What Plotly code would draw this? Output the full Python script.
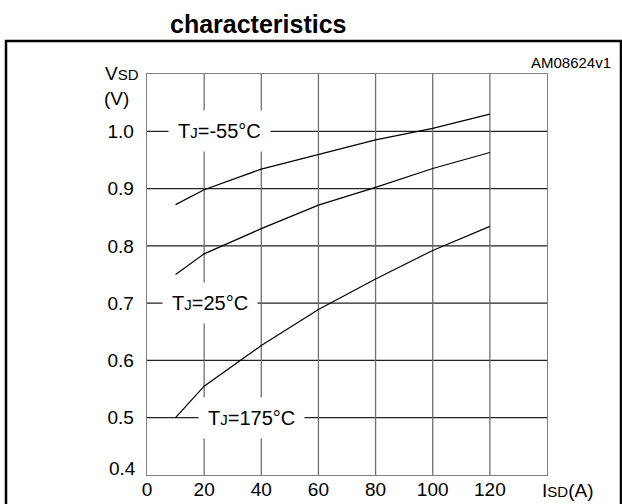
import plotly.graph_objects as go

# Data
isd = [10, 20, 40, 60, 80, 100, 120]
vsd_m55 = [0.872, 0.898, 0.934, 0.959, 0.985, 1.005, 1.030]
vsd_25 = [0.750, 0.786, 0.830, 0.871, 0.902, 0.935, 0.963]
vsd_175 = [0.500, 0.555, 0.626, 0.689, 0.742, 0.792, 0.834]

x_ticks = [0, 20, 40, 60, 80, 100, 120]
y_ticks = [0.5, 0.6, 0.7, 0.8, 0.9, 1.0]
y_tick_text = ["0.5", "0.6", "0.7", "0.8", "0.9", "1.0"]

labels = [
    ("T<span style='font-size:15px'>J</span>=-55°C", 25.3, 1.0),
    ("T<span style='font-size:15px'>J</span>=25°C", 22.0, 0.7),
    ("T<span style='font-size:15px'>J</span>=175°C", 36.4, 0.5),
]

W, H = 622, 504
L, R, T, B = 147, 75, 74, 29
pw, ph = W - L - R, H - T - B

def px(x):
    return (x - L) / pw

def py(y):
    return (H - B - y) / ph

FONT = "Liberation Sans, Arial, sans-serif"

fig = go.Figure()
for ys in (vsd_m55, vsd_25, vsd_175):
    fig.add_trace(go.Scatter(x=isd, y=ys, mode="lines",
                             line=dict(color="black", width=1.2),
                             showlegend=False, hoverinfo="skip"))

shapes = []
for yv in y_ticks:
    shapes.append(dict(type="line", xref="x", yref="y", x0=0, x1=140, y0=yv, y1=yv,
                       line=dict(color="#222", width=1.3), layer="below"))
for xv in x_ticks[1:]:
    shapes.append(dict(type="line", xref="x", yref="y", x0=xv, x1=xv, y0=0.4, y1=1.1,
                       line=dict(color="#707070", width=1.3), layer="below"))
# outer frame
shapes.append(dict(type="rect", xref="paper", yref="paper",
                   x0=px(6), x1=px(621), y0=py(41), y1=py(520),
                   line=dict(color="black", width=2.5)))
fig.update_layout(shapes=shapes)

def note(text, x, y, size=19, xanchor="center", bold=False):
    return dict(x=px(x), y=py(y), xref="paper", yref="paper", xanchor=xanchor,
                yanchor="middle", text=f"<b>{text}</b>" if bold else text,
                showarrow=False, font=dict(family=FONT, size=size, color="black"))

annotations = []
for txt, xv, yv in labels:
    annotations.append(dict(x=xv, y=yv, xref="x", yref="y", text=txt, showarrow=False,
                            xanchor="center", yanchor="middle",
                            font=dict(family=FONT, size=20, color="black"),
                            bgcolor="white", borderpad=9))
annotations.append(note("V<span style='font-size:15px'>SD</span>", 122, 73))
annotations.append(note("(V)", 116, 98))
annotations.append(note("0.4", 138, 468, xanchor="right"))
annotations.append(note("I<span style='font-size:15px'>SD</span>(A)", 567, 490))
annotations.append(note("AM08624v1", 613, 62, size=15, xanchor="right"))
annotations.append(note("characteristics", 258, 24, size=25, bold=True))
fig.update_layout(annotations=annotations)

fig.update_xaxes(range=[0, 140], tickvals=x_ticks, ticktext=[str(v) for v in x_ticks],
                 showgrid=False, zeroline=False, showline=True, mirror=True,
                 linecolor="#808080", linewidth=1.3, ticks="", ticklabelstandoff=-3,
                 automargin=False,
                 tickfont=dict(family=FONT, size=19, color="black"))
fig.update_yaxes(range=[0.4, 1.1], tickvals=y_ticks, ticktext=y_tick_text,
                 showgrid=False, zeroline=False, showline=True, mirror=True,
                 linecolor="#808080", linewidth=1.3, ticks="", ticklabelstandoff=8,
                 automargin=False,
                 tickfont=dict(family=FONT, size=19, color="black"))

fig.update_layout(width=W, height=H, margin=dict(l=L, r=R, t=T, b=B, autoexpand=False),
                  plot_bgcolor="white", paper_bgcolor="white")

fig.write_html("out.html",
               config={"displayModeBar": False, "staticPlot": True},
               post_script="document.documentElement.style.margin='0';"
                           "document.body.style.margin='0';"
                           "document.body.style.overflow='hidden';"
                           "var d=document.getElementById('{plot_id}');"
                           "d.style.position='fixed';d.style.top='0';d.style.left='0';")
